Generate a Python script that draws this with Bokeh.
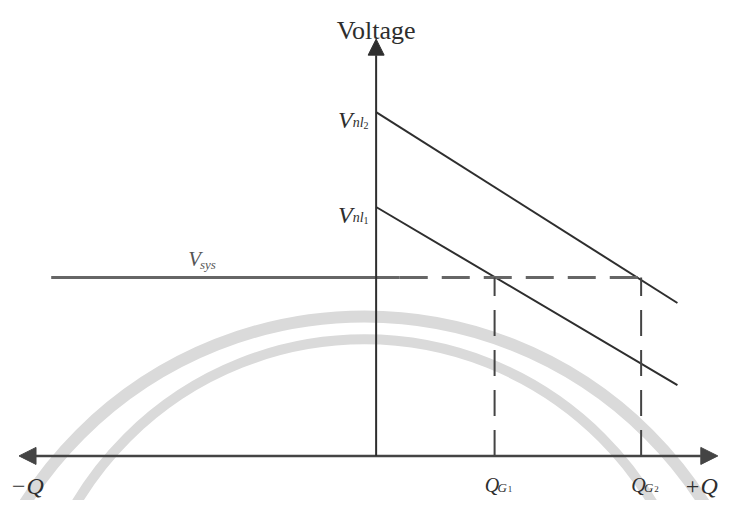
from bokeh.plotting import figure
from bokeh.models import Range1d, Arrow, NormalHead
from bokeh.core.properties import value
from bokeh.embed import file_html
from bokeh.resources import INLINE
import math

# ---- data (reactive power Q on x, voltage on y; conceptual units) ----
droop_q = [0.0, 88.0]          # Q at start / end of each droop line
droop1_v = [73.4, 20.9]        # generator 1 droop line (V_nl1 -> end)
droop2_v = [101.4, 45.1]       # generator 2 droop line (V_nl2 -> end)
v_nl = [73.4, 101.4]           # no-load voltages
v_nl_subs = ["1", "2"]
v_sys = 52.6                   # system voltage
vsys_solid_q = [-94.9, 6.9]    # solid part of V_sys line
q_g = [34.6, 77.4]             # operating points Q_G1, Q_G2
q_g_subs = ["1", "2"]
q_axis = [-104.3, 99.8]        # horizontal axis extent
v_axis_top = 122.9             # vertical axis extent

# watermark arcs (centre x, centre y, radius)
wm_x = [-3.4, -3.4]
wm_y = [-77.4, -64.6]
wm_r = [117.4, 98.0]

PX = 3.5  # reference pixels per unit (for label offsets)
FONT = value("Liberation Serif")
INK = "#2e2e2e"

p = figure(width=719, height=500,
           x_range=Range1d(-109.71, 100.29), y_range=Range1d(-13.14, 134.29),
           x_axis_type=None, y_axis_type=None,
           toolbar_location=None, output_backend="svg",
           min_border=0, outline_line_color=None,
           background_fill_color="white", border_fill_color="white")
p.grid.visible = False

# watermark
p.arc(x=wm_x, y=wm_y, radius=wm_r, start_angle=0, end_angle=math.pi,
      line_color="#dadada", line_width=[12, 10])

# droop lines
p.line(droop_q, droop1_v, line_color=INK, line_width=2)
p.line(droop_q, droop2_v, line_color=INK, line_width=2)

# V_sys line: solid then dashed
p.line(vsys_solid_q, [v_sys, v_sys], line_color="#666666", line_width=3)
p.line([vsys_solid_q[1], q_g[1]], [v_sys, v_sys], line_color="#666666",
       line_width=3, line_dash="28 14")

# vertical dashed lines to Q_G
for q in q_g:
    p.line([q, q], [0, v_sys], line_color="#444444", line_width=2,
           line_dash="26 14")

# axes with arrowheads
p.add_layout(Arrow(x_start=q_axis[0], y_start=0, x_end=q_axis[1], y_end=0,
                   line_color="#444444", line_width=2.5,
                   start=NormalHead(size=17, fill_color="#444444", line_color="#444444"),
                   end=NormalHead(size=17, fill_color="#444444", line_color="#444444")))
p.add_layout(Arrow(x_start=0, y_start=0, x_end=0, y_end=v_axis_top,
                   line_color=INK, line_width=2,
                   end=NormalHead(size=16, fill_color=INK, line_color=INK)))

# texts
p.text(x=[0], y=[(470 - 31) / PX], text=["Voltage"], text_font=FONT,
       text_font_size="26px", text_align="center", text_baseline="alphabetic",
       text_color=INK)

# V_nl labels
p.text(x=[-39 / PX] * 2, y=[v - 8 / PX for v in v_nl], text=["V", "V"],
       text_font=FONT, text_font_style="italic", text_font_size="24px",
       text_align="left", text_baseline="alphabetic", text_color=INK)
p.text(x=[-24 / PX] * 2, y=[v - 11 / PX for v in v_nl], text=["nl", "nl"],
       text_font=FONT, text_font_style="italic", text_font_size="14px",
       text_align="left", text_baseline="alphabetic", text_color=INK)
p.text(x=[-13 / PX] * 2, y=[v - 14 / PX for v in v_nl], text=v_nl_subs,
       text_font=FONT, text_font_size="10px",
       text_align="left", text_baseline="alphabetic", text_color=INK)

# V_sys label
p.text(x=[(192 - 384) / PX], y=[v_sys + 19 / PX], text=["V"], text_font=FONT,
       text_font_style="italic", text_font_size="21px", text_align="left",
       text_baseline="alphabetic", text_color="#555555")
p.text(x=[(204 - 384) / PX], y=[v_sys + 13 / PX], text=["sys"], text_font=FONT,
       text_font_style="italic", text_font_size="13px", text_align="left",
       text_baseline="alphabetic", text_color="#555555")

# -Q / +Q
p.text(x=[(10 - 384) / PX, (699 - 384) / PX], y=[-31 / PX, -31 / PX],
       text=["\u2212Q", "+Q"], text_font=FONT, text_font_style="italic",
       text_font_size="24px", text_align="left", text_baseline="alphabetic",
       text_color=INK)

# Q_G labels
p.text(x=[q - 10 / PX for q in q_g], y=[-30 / PX] * 2, text=["Q", "Q"],
       text_font=FONT, text_font_style="italic", text_font_size="20px",
       text_align="left", text_baseline="alphabetic", text_color=INK)
p.text(x=[q + 3 / PX for q in q_g], y=[-32.5 / PX] * 2, text=["G", "G"],
       text_font=FONT, text_font_style="italic", text_font_size="13px",
       text_align="left", text_baseline="alphabetic", text_color=INK)
p.text(x=[q + 13.5 / PX for q in q_g], y=[-34 / PX] * 2, text=q_g_subs,
       text_font=FONT, text_font_size="9px",
       text_align="left", text_baseline="alphabetic", text_color=INK)

open("out.html", "w").write(file_html(p, INLINE))
